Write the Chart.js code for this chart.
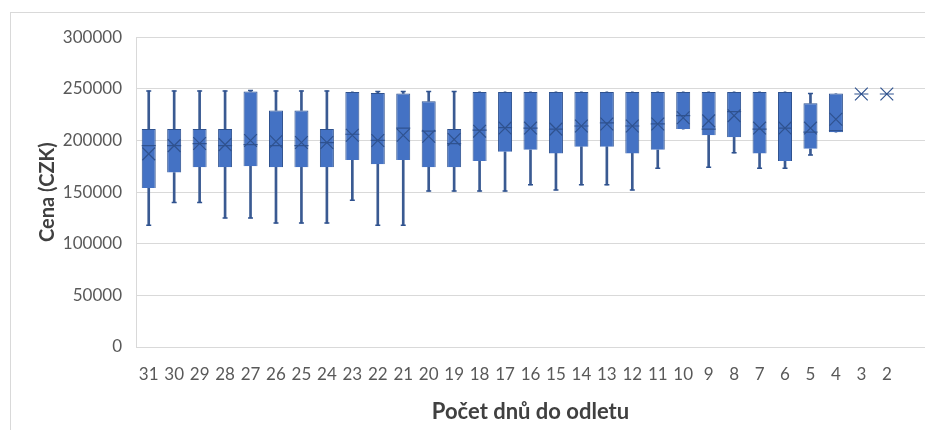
<!DOCTYPE html>
<html>
<head>
<meta charset="utf-8">
<script src="https://cdn.jsdelivr.net/npm/chart.js@4/dist/chart.umd.min.js"></script>
<style>
  body { margin: 0; background: #fff; }
  #frame {
    position: absolute; left: 10px; top: 12px;
    width: 914px; height: 417px;
    border-left: 1px solid #d9d9d9; border-top: 1px solid #d9d9d9;
  }
</style>
</head>
<body>
<div id="frame"><canvas id="boxChart" width="914" height="417"></canvas></div>
<script>
// days before departure (last slot left empty)
const days = ['31','30','29','28','27','26','25','24','23','22','21','20','19','18','17','16',
              '15','14','13','12','11','10','9','8','7','6','5','4','3','2',''];

const whiskerLow  = [118000,140000,140000,125000,125000,120000,120000,120000,142000,118000,118000,151000,151000,151000,151000,157000,
                     152000,157000,157000,152000,173000,211000,174000,188000,173000,173000,186000,208000,245000,245000];
const q1          = [154000,169000,174000,174000,175000,174000,174000,174000,181000,177000,181000,174000,174000,180000,189000,191000,
                     187500,194000,194000,187500,191000,211000,205000,203000,187500,180000,192000,208000,245000,245000];
const median      = [195000,195000,197000,195000,196000,195000,195000,198000,206000,200000,212000,209000,197000,210000,212500,212000,
                     211000,214000,217000,214000,216000,224000,211000,228000,211000,212000,208000,209500,245000,245000];
const q3          = [211000,211000,211000,211000,247500,229000,229000,211000,247000,246000,245500,238000,211000,247000,247000,247000,
                     247000,247000,247000,247000,247000,247000,247000,247000,247000,247000,236000,245500,245000,245000];
const whiskerHigh = [248000,248000,248000,248000,248500,248000,248000,248000,247000,247500,247500,247500,247500,247000,247000,247000,
                     247000,247000,247000,247000,247000,247000,247000,247000,247000,247000,245500,245500,245000,245000];
const mean        = [187000,195000,197000,196000,200000,199000,198000,198000,205000,200000,205000,204000,201000,209000,212000,212000,
                     211000,214000,216000,214000,216000,222000,219000,224000,212000,212000,212000,220500,245000,245000];

const yTicks = [0, 50000, 100000, 150000, 200000, 250000, 300000];

const boxFill = '#4472C4';
const boxLine = '#2F528F';

const boxes = q1.map((v, i) => [v, q3[i]]);
const lowerWhisker = q1.map((v, i) => [whiskerLow[i], v]);
const upperWhisker = q3.map((v, i) => [v, whiskerHigh[i]]);
const lowCaps = whiskerLow.map((v, i) => v < q1[i] ? v : null);
const highCaps = whiskerHigh.map((v, i) => v > q3[i] ? v : null);

const whiskerStyle = {
  type: 'bar', grouped: false, barThickness: 2,
  backgroundColor: '#3A5A92', borderWidth: 0, order: 6
};
const markerStyle = {
  type: 'line', showLine: false, pointBackgroundColor: 'transparent', pointBorderColor: boxLine
};

new Chart(document.getElementById('boxChart'), {
  type: 'bar',
  data: {
    labels: days,
    datasets: [
      { ...whiskerStyle, data: lowerWhisker },
      { ...whiskerStyle, data: upperWhisker },
      {
        type: 'bar', data: boxes, grouped: false,
        backgroundColor: boxFill, borderColor: boxLine, borderWidth: 1,
        categoryPercentage: 1, barPercentage: 0.55, order: 5
      },
      { ...markerStyle, data: lowCaps, pointStyle: 'line', pointRadius: 2.5, pointBorderWidth: 1.5, order: 3 },
      { ...markerStyle, data: highCaps, pointStyle: 'line', pointRadius: 2.5, pointBorderWidth: 1.5, order: 3 },
      { ...markerStyle, data: median, pointStyle: 'line', pointRadius: 7, pointBorderWidth: 1.2, order: 2 },
      { ...markerStyle, data: mean, pointStyle: 'crossRot', pointRadius: 9, pointBorderWidth: 1.2, order: 1 }
    ]
  },
  options: {
    responsive: false,
    animation: false,
    layout: { autoPadding: false, padding: { left: 25, top: 21, right: 0, bottom: 0 } },
    plugins: { legend: { display: false }, tooltip: { enabled: false } },
    scales: {
      x: {
        grid: { display: false },
        border: { color: '#d9d9d9' },
        ticks: { color: '#595959', font: { family: 'Lato', size: 17 }, padding: 9, maxRotation: 0, autoSkip: false },
        title: {
          display: true, text: 'Počet dnů do odletu', color: '#404040',
          font: { family: 'Lato', size: 22, weight: 'bold' }, padding: { top: 0, bottom: 5 }
        },
        afterFit: (scale) => {
          scale.height = 83;
          scale.paddingLeft = 0;
          scale.paddingRight = 0;
        }
      },
      y: {
        min: 0, max: 300000,
        afterBuildTicks: (scale) => { scale.ticks = yTicks.map(v => ({ value: v })); },
        grid: { color: '#d9d9d9', drawTicks: false },
        border: { color: '#d9d9d9' },
        ticks: { color: '#595959', font: { family: 'Lato', size: 17 }, padding: 14, callback: (v) => String(v) },
        title: {
          display: true, text: 'Cena (CZK)', color: '#404040',
          font: { family: 'Lato', size: 20, weight: 'bold' }, padding: { top: 0, bottom: 0 }
        },
        afterFit: (scale) => { scale.width = 100; }
      }
    }
  }
});
</script>
</body>
</html>
